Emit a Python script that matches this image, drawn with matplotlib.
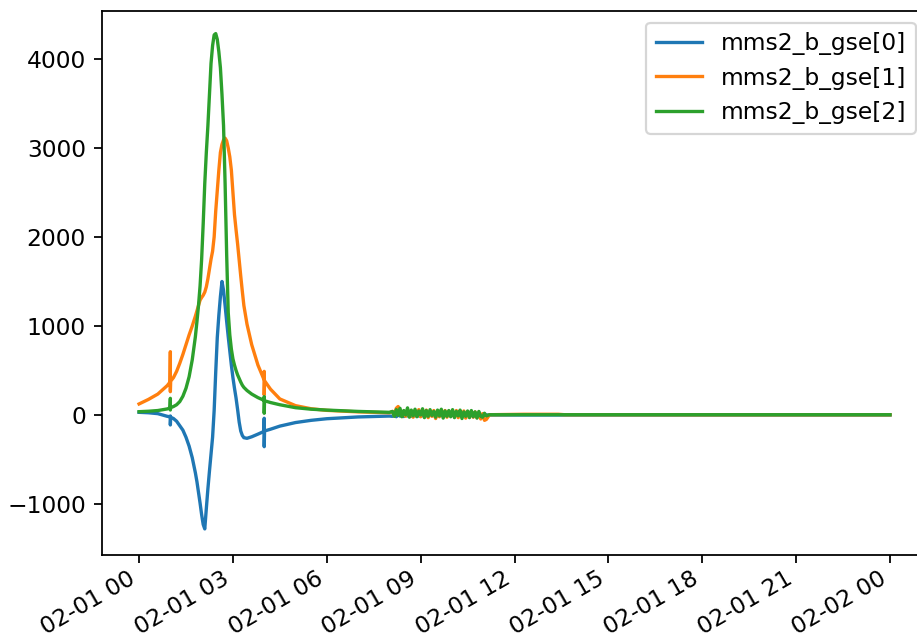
import numpy as np
import pandas as pd
import matplotlib
matplotlib.use("Agg")
import matplotlib.pyplot as plt
import matplotlib.dates as mdates

plt.rcParams['font.size'] = 10.5

# horas desde 02-01 00:00 (los tiempos repetidos son los picos verticales)
hours = [0, 0.3, 0.6, 0.9, 0.99, 1.0, 1.0, 1.01, 1.1, 1.2, 1.3, 1.4, 1.5, 1.6, 1.7,
         1.8, 1.85, 1.9, 1.95, 2.0, 2.05, 2.1, 2.15, 2.2, 2.25, 2.3, 2.35, 2.4, 2.45,
         2.5, 2.55, 2.6, 2.65, 2.7, 2.75, 2.8, 2.85, 2.9, 2.95, 3.0, 3.05, 3.1, 3.15,
         3.2, 3.25, 3.3, 3.35, 3.45, 3.6, 3.8, 3.99, 4.0, 4.0, 4.01, 4.2, 4.5, 5.0,
         5.5, 6.0, 7.0, 8.0]

b0 = [30, 25, 15, -15, -20, -11, -112, -25, -40, -70, -120, -170, -250, -350, -480,
      -650, -750, -870, -990, -1120, -1230, -1280, -1050, -830, -630, -440, -250, 50, 480,
      870, 1120, 1330, 1500, 1400, 1230, 1050, 880, 720, 560, 420, 300, 190, 60,
      -80, -180, -230, -255, -262, -245, -215, -185, -37, -356, -180, -160, -125, -85,
      -60, -42, -22, -12]

b1 = [124, 175, 235, 330, 370, 711, 262, 380, 420, 490, 580, 680, 790, 900, 1000,
      1110, 1170, 1230, 1290, 1320, 1345, 1380, 1440, 1530, 1640, 1750, 1840, 2000, 2290,
      2520, 2750, 2950, 3040, 3090, 3110, 3080, 3000, 2900, 2750, 2500, 2250, 2080, 1920,
      1740, 1560, 1390, 1230, 1020, 790, 560, 400, 490, 225, 385, 290, 180, 105,
      70, 52, 35, 25]

b2 = [37, 42, 50, 68, 78, 187, 56, 82, 95, 115, 150, 210, 300, 430, 620,
      880, 1050, 1230, 1450, 1750, 2150, 2600, 2950, 3250, 3600, 3950, 4150, 4270, 4285,
      4220, 4080, 3900, 3600, 3250, 2600, 1800, 1150, 900, 740, 630, 560, 500, 450,
      410, 370, 335, 310, 275, 235, 195, 165, 206, 19, 160, 140, 115, 82,
      65, 55, 40, 30]

# tramo ruidoso entre las 08 y las 11
noise_hours = [8.1, 8.16, 8.22, 8.28, 8.34, 8.4, 8.46, 8.52, 8.58, 8.64,
               8.7, 8.76, 8.82, 8.88, 8.94, 9.0, 9.06, 9.12, 9.18, 9.24,
               9.3, 9.36, 9.42, 9.48, 9.54, 9.6, 9.66, 9.72, 9.78, 9.84,
               9.9, 9.96, 10.02, 10.08, 10.14, 10.2, 10.26, 10.32, 10.38, 10.44,
               10.5, 10.56, 10.62, 10.68, 10.74, 10.8, 10.86, 10.92, 10.98, 11.04,
               11.1]

noise_b0 = [-15, -2, -20, 0, -12, -5, -18, 2, -10, -3,
            -14, 0, -9, 3, -12, -2, -8, 4, -10, -1,
            -6, 4, -8, 0, -5, 5, -7, 1, -4, 4,
            -6, 2, -3, 5, -2, 1, -4, 3, -2, 2,
            -3, 3, 0, -2, 2, 0, -2, 3, 0, -1,
            0]

noise_b1 = [40, -10, 75, 95, 50, 0, 45, -15, 55, -5,
            40, -25, 50, 0, 60, -20, 45, -5, 55, -30,
            40, -15, 50, -40, 35, -20, 45, -5, 50, -25,
            40, -10, 35, -20, 50, -30, 40, -15, 45, -35,
            30, -20, 40, -25, 35, -30, 25, -45, 15, -60,
            -50]

noise_b2 = [40, -15, 60, -5, 75, -20, 50, 0, 80, -25,
            55, -10, 65, -20, 45, 0, 70, -30, 50, -15,
            60, -5, 40, -25, 55, -10, 65, -35, 45, -15,
            50, -20, 60, -30, 40, -10, 55, -40, 35, -15,
            45, -30, 50, -20, 35, -35, 40, -15, -25, 20,
            -10]

# resto del día, casi plano
tail_hours = [11.2, 12.3, 13.4, 13.6, 18.0, 21.0, 24.0]
tail_b0 = [0, 0, 0, 0, 0, 0, 0]
tail_b1 = [3, 8, 8, 3, 2, 2, 2]
tail_b2 = [3, 3, 3, 3, 3, 3, 3]

labels = ['mms2_b_gse[0]', 'mms2_b_gse[1]', 'mms2_b_gse[2]']

start = pd.Timestamp('2017-02-01 00:00')
all_hours = hours + noise_hours + tail_hours
times = start + pd.to_timedelta(all_hours, unit='h')
series = [b0 + noise_b0 + tail_b0,
          b1 + noise_b1 + tail_b1,
          b2 + noise_b2 + tail_b2]

dpi = 160
fig = plt.figure(figsize=(917 / dpi, 638 / dpi), dpi=dpi)
ax = fig.add_axes([0.1107, 0.1301, 0.9008, 0.8527])

for serie, lab in zip(series, labels):
    ax.plot(times, serie, label=lab)

ax.set_ylim(-1573, 4539)
ax.xaxis.set_major_locator(mdates.HourLocator(byhour=range(0, 24, 3)))
ax.xaxis.set_major_formatter(mdates.DateFormatter('%m-%d %H'))
ax.tick_params(axis='x', pad=2)
ax.legend(loc='upper right')
fig.autofmt_xdate()
ax.set_position([0.1107, 0.1301, 0.9008, 0.8527])

fig.savefig('out.png', dpi=dpi)
